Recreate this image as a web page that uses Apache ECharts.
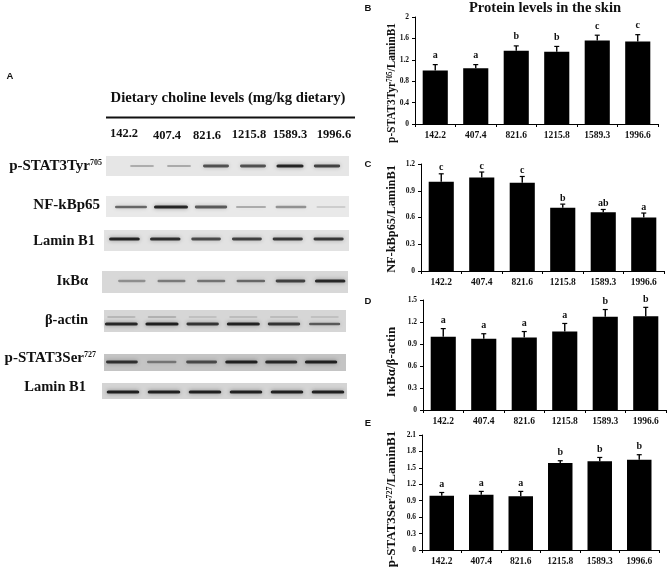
<!DOCTYPE html>
<html>
<head>
<meta charset="utf-8">
<style>html,body{margin:0;padding:0;background:#fff}#c{width:669px;height:570px;filter:blur(0.35px)}</style>
<script src="https://cdn.jsdelivr.net/npm/echarts@6/dist/echarts.min.js"></script>
</head>
<body>
<div id="c"></div>
<script>
const categories = ['142.2','407.4','821.6','1215.8','1589.3','1996.6'];

// Bar panels: mean values, upper error bar tips, significance letters
const bValues = [1.00,1.04,1.37,1.35,1.56,1.54];
const bTops   = [1.11,1.11,1.46,1.45,1.66,1.67];
const bLetters= ['a','a','b','b','c','c'];
const cValues = [1.00,1.05,0.99,0.71,0.66,0.60];
const cTops   = [1.09,1.11,1.06,0.75,0.69,0.65];
const cLetters= ['c','c','c','b','ab','a'];
const dValues = [1.00,0.97,0.99,1.07,1.27,1.28];
const dTops   = [1.11,1.04,1.07,1.18,1.37,1.40];
const dLetters= ['a','a','a','a','b','b'];
const eValues = [0.99,1.01,0.98,1.59,1.62,1.65];
const eTops   = [1.05,1.07,1.07,1.63,1.69,1.74];
const eLetters= ['a','a','a','b','b','b'];

// Western blot band strengths (0 = none, 1 = darkest), one per lane
const pStatTyrBands = [0.28,0.30,0.72,0.72,0.95,0.80];
const nfkbBands     = [0.62,0.95,0.68,0.30,0.42,0.14];
const lamin1Bands   = [0.95,0.90,0.75,0.80,0.85,0.85];
const ikbBands      = [0.38,0.48,0.52,0.58,0.78,0.92];
const actinBands    = [0.92,0.97,0.85,0.95,0.85,0.65];
const actinGhost    = [0.16,0.20,0.12,0.14,0.14,0.12];
const pStatSerBands = [0.85,0.45,0.70,0.95,0.90,0.95];
const lamin2Bands   = [0.96,0.96,0.96,0.96,0.96,0.96];

const SERIF = '"Liberation Serif","Times New Roman",serif';
const SANS = '"Liberation Sans",Arial,sans-serif';

const barPanels = [
  {vals:bValues,tops:bTops,letters:bLetters,max:2,step:0.4,l:415,r:658,t:17,b:124,gap:9},
  {vals:cValues,tops:cTops,letters:cLetters,max:1.2,step:0.3,l:421,r:664,t:164,b:271,gap:6},
  {vals:dValues,tops:dTops,letters:dLetters,max:1.5,step:0.3,l:423,r:666,t:300,b:410,gap:8},
  {vals:eValues,tops:eTops,letters:eLetters,max:2.1,step:0.3,l:422,r:659,t:435,b:550,gap:8}
];

const blotRows = [
  {bands:pStatTyrBands,bg:[106,156,243,20],lane:[123.5,345.5],y:166,grey:'#e6e6e6',w:0.74},
  {bands:nfkbBands,bg:[106,196,243,21],lane:[111,351],y:207,grey:'#e9e9e9',w:0.86},
  {bands:lamin1Bands,bg:[104,230,245,21],lane:[104,349],y:239,grey:'#e2e2e2',w:0.76},
  {bands:ikbBands,bg:[102,271,246,22],lane:[112,350],y:281,grey:'#d8d8d8',w:0.78},
  {bands:actinBands,ghost:actinGhost,bg:[104,310,242,22],lane:[101,345],y:324,grey:'#d6d6d6',w:0.82},
  {bands:pStatSerBands,bg:[104,354,242,17],lane:[102,341],y:362,grey:'#c4c4c4',w:0.82},
  {bands:lamin2Bands,bg:[102,383,245,16],lane:[102.5,348.5],y:392,grey:'#d4d4d4',w:0.8}
];

const grids=[],xAxes=[],yAxes=[],series=[],graphics=[];

barPanels.forEach((p,i)=>{
  grids.push({left:p.l,top:p.t,width:p.r-p.l,height:p.b-p.t});
  xAxes.push({type:'category',gridIndex:i,data:categories,
    axisLine:{lineStyle:{color:'#000',width:1}},
    axisTick:{show:true,alignWithLabel:false,length:3,lineStyle:{color:'#000'}},
    axisLabel:{color:'#111',fontFamily:SERIF,fontWeight:'bold',fontSize:9.5,margin:7,interval:0}});
  yAxes.push({type:'value',gridIndex:i,min:0,max:p.max,interval:p.step,
    axisLine:{show:true,lineStyle:{color:'#000',width:1}},
    axisTick:{show:true,length:3,lineStyle:{color:'#000'}},
    splitLine:{show:false},
    axisLabel:{color:'#111',fontFamily:SERIF,fontWeight:'bold',fontSize:7.5,margin:6,hideOverlap:false}});
  series.push({type:'bar',xAxisIndex:i,yAxisIndex:i,data:p.vals,barWidth:'62%',
    itemStyle:{color:'#000'},animation:false,silent:true});
  series.push({type:'custom',xAxisIndex:i,yAxisIndex:i,clip:false,animation:false,silent:true,z:3,
    data:p.vals.map((v,k)=>[k,v,p.tops[k]]),encode:{x:0,y:[1,2]},
    renderItem(params,api){
      const a=api.coord([api.value(0),api.value(1)]);
      const t=api.coord([api.value(0),api.value(2)]);
      return {type:'group',children:[
        {type:'line',shape:{x1:a[0],y1:a[1],x2:t[0],y2:t[1]},style:{stroke:'#000',lineWidth:1.4}},
        {type:'line',shape:{x1:t[0]-2.5,y1:t[1],x2:t[0]+2.5,y2:t[1]},style:{stroke:'#000',lineWidth:1.2}},
        {type:'text',x:t[0],y:t[1]-p.gap,style:{text:p.letters[params.dataIndex],align:'center',verticalAlign:'middle',
          font:'bold 10px '+SERIF,fill:'#111'}}
      ]};
    }});
});

blotRows.forEach((r,j)=>{
  const i=barPanels.length+j;
  graphics.push({type:'rect',shape:{x:r.bg[0],y:r.bg[1],width:r.bg[2],height:r.bg[3]},style:{fill:r.grey},z:0,silent:true});
  grids.push({left:r.lane[0],width:r.lane[1]-r.lane[0],top:r.y-10,height:20});
  xAxes.push({type:'category',gridIndex:i,data:categories,show:false});
  yAxes.push({type:'value',gridIndex:i,min:0,max:1,show:false});
  const addBands=(arr,yPos,thick)=>series.push({type:'custom',xAxisIndex:i,yAxisIndex:i,clip:false,animation:false,silent:true,z:3,
    data:arr.map((v,k)=>[k,yPos,v]),encode:{x:0,y:1},
    renderItem(params,api){
      const c=api.coord([api.value(0),api.value(1)]);
      const s=api.value(2);
      const w=api.size([1,0])[0]*r.w*(0.82+0.18*s);
      const h=thick+s*1.4;
      const col='rgba(0,0,0,'+(s*0.85).toFixed(3)+')';
      return {type:'rect',shape:{x:c[0]-w/2,y:c[1]-h/2,width:w,height:h,r:h/2},
        style:{fill:col,shadowBlur:4,shadowColor:'rgba(0,0,0,'+(s*0.5).toFixed(3)+')'}};
    }});
  addBands(r.bands,0.5,1.8);
  if(r.ghost) addBands(r.ghost,0.85,1.6);
});

function text(x,y,str,size,opts={}){
  const sx=opts.squeeze||1;
  graphics.push({type:'text',x,y,rotation:opts.rot||0,scaleX:sx,z:5,silent:true,style:{
    text:str,fill:opts.fill||'#111',align:opts.align||'center',verticalAlign:'middle',
    font:`bold ${size}px ${opts.family||SERIF}`,
    rich:opts.rich}});
}
function richFor(size,supSize){
  return {b:{font:`bold ${size}px ${SERIF}`,fill:'#111',verticalAlign:'bottom'},
          s:{font:`bold ${supSize}px ${SERIF}`,fill:'#111',verticalAlign:'top'}};
}

text(545,8,'Protein levels in the skin',14.6);
text(10,76,'A',9.5,{family:SANS});
text(368,8,'B',9.5,{family:SANS});
text(368,164,'C',9.5,{family:SANS});
text(368,301,'D',9.5,{family:SANS});
text(368,423,'E',9.5,{family:SANS});

text(228,98,'Dietary choline levels (mg/kg dietary)',14.7);
graphics.push({type:'line',shape:{x1:106,y1:117.5,x2:355,y2:117.5},style:{stroke:'#111',lineWidth:2},z:5,silent:true});
const headerX=[124,167,207,249,290,334], headerY=[134,135.5,135.5,135,135,134.5];
categories.forEach((c,k)=>text(headerX[k],headerY[k],c,12.5));

const rot90=Math.PI/2;
text(392,83,'{b|p-STAT3Tyr}{s|705}{b|/LaminB1}',13,{rot:rot90,squeeze:0.87,rich:richFor(13,8)});
text(392,219,'NF-kBp65/LaminB1',13,{rot:rot90,squeeze:0.95});
text(392,362,'IκBα/β-actin',13,{rot:rot90});
text(392,499,'{b|p-STAT3Ser}{s|727}{b|/LaminB1}',13,{rot:rot90,rich:richFor(13,8)});

text(102,166.5,'{b|p-STAT3Tyr}{s|705}',15,{align:'right',rich:richFor(15,8)});
text(100,205,'NF-kBp65',15,{align:'right'});
text(95,241,'Lamin B1',14.5,{align:'right'});
text(88,281,'IκBα',14.5,{align:'right'});
text(88,320,'β-actin',14.5,{align:'right'});
text(96,358,'{b|p-STAT3Ser}{s|727}',15,{align:'right',rich:richFor(15,8)});
text(86,387,'Lamin B1',14.5,{align:'right'});

const chart=echarts.init(document.getElementById('c'),null,{renderer:'canvas'});
chart.setOption({animation:false,backgroundColor:'#fff',grid:grids,xAxis:xAxes,yAxis:yAxes,series,graphic:{elements:graphics}});
</script>
</body>
</html>
